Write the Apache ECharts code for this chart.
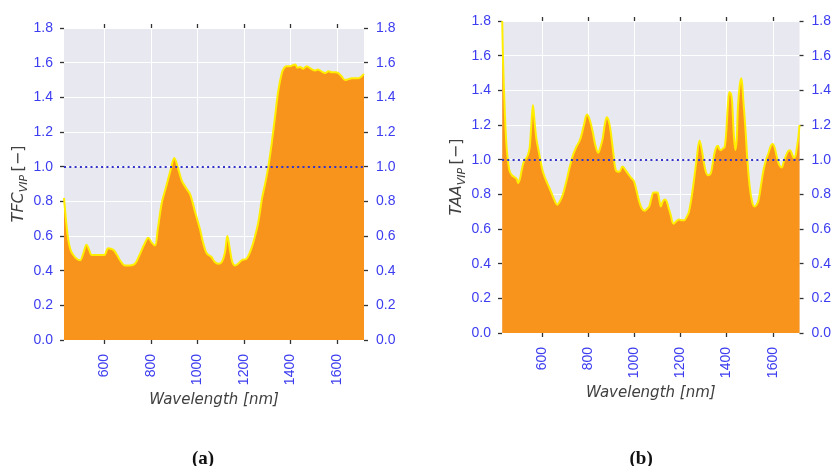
<!DOCTYPE html>
<html>
<head>
<meta charset="utf-8">
<script src="https://cdn.jsdelivr.net/npm/echarts@6/dist/echarts.min.js"></script>
<style>
  html, body { margin: 0; padding: 0; background: #ffffff; }
  #chart { width: 834px; height: 466px; }
</style>
</head>
<body>
<div id="chart"></div>
<script>
// Panel (a): TFC VIP scores against wavelength
const tfcWavelength = [427, 435, 445, 455, 467, 480, 496, 510, 524, 535, 546, 565, 582, 600, 617, 639, 655, 668, 689, 710, 732, 748, 761, 775, 789, 805, 818, 830, 847, 865, 885, 901, 915, 933, 950, 969, 990, 1011, 1025, 1040, 1060, 1075, 1090, 1105, 1118, 1129, 1140, 1150, 1162, 1175, 1191, 1212, 1230, 1248, 1262, 1277, 1291, 1305, 1320, 1334, 1348, 1363, 1373, 1384, 1400, 1420, 1430, 1441, 1455, 1470, 1488, 1506, 1517, 1527, 1538, 1549, 1563, 1578, 1592, 1606, 1620, 1635, 1650, 1664, 1678, 1693, 1705, 1716];
const tfcVip = [0.82, 0.70, 0.58, 0.52, 0.49, 0.47, 0.46, 0.50, 0.55, 0.52, 0.49, 0.49, 0.49, 0.49, 0.53, 0.52, 0.49, 0.46, 0.43, 0.43, 0.44, 0.48, 0.52, 0.56, 0.59, 0.56, 0.545, 0.64, 0.79, 0.88, 0.98, 1.05, 1.00, 0.92, 0.88, 0.84, 0.74, 0.64, 0.56, 0.50, 0.48, 0.45, 0.44, 0.45, 0.50, 0.60, 0.52, 0.45, 0.43, 0.44, 0.46, 0.47, 0.52, 0.60, 0.68, 0.81, 0.90, 1.00, 1.14, 1.29, 1.44, 1.54, 1.57, 1.58, 1.58, 1.59, 1.57, 1.575, 1.565, 1.58, 1.565, 1.555, 1.56, 1.555, 1.545, 1.54, 1.55, 1.545, 1.545, 1.54, 1.52, 1.50, 1.505, 1.51, 1.51, 1.51, 1.52, 1.535];

// Panel (b): TAA VIP scores against wavelength
const taaWavelength = [428, 432, 440, 447, 455, 461, 470, 480, 490, 497, 505, 511, 522, 533, 540, 547, 554, 561, 568, 576, 583, 593, 604, 618, 633, 650, 666, 678, 691, 705, 719, 733, 748, 760, 769, 782, 795, 807, 820, 832, 844, 853, 863, 872, 881, 890, 898, 910, 920, 935, 949, 962, 978, 990, 999, 1010, 1021, 1032, 1044, 1055, 1065, 1073, 1084, 1095, 1101, 1108, 1115, 1124, 1133, 1140, 1147, 1158, 1170, 1182, 1194, 1205, 1216, 1227, 1237, 1248, 1259, 1270, 1283, 1292, 1302, 1310, 1319, 1331, 1340, 1348, 1355, 1362, 1369, 1376, 1384, 1391, 1398, 1405, 1412, 1419, 1424, 1431, 1438, 1444, 1449, 1457, 1464, 1472, 1481, 1490, 1500, 1510, 1520, 1530, 1539, 1550, 1560, 1571, 1582, 1592, 1600, 1608, 1617, 1628, 1639, 1648, 1658, 1667, 1675, 1684, 1692, 1698, 1703, 1710, 1716];
const taaVip = [1.80, 1.55, 1.25, 1.07, 0.97, 0.93, 0.91, 0.90, 0.89, 0.865, 0.89, 0.93, 0.99, 1.01, 1.03, 1.07, 1.20, 1.315, 1.22, 1.12, 1.07, 1.00, 0.93, 0.88, 0.835, 0.78, 0.74, 0.76, 0.80, 0.87, 0.95, 1.02, 1.07, 1.10, 1.13, 1.20, 1.26, 1.23, 1.16, 1.08, 1.04, 1.07, 1.12, 1.20, 1.245, 1.22, 1.16, 1.03, 0.94, 0.93, 0.96, 0.94, 0.91, 0.89, 0.875, 0.82, 0.76, 0.72, 0.705, 0.715, 0.73, 0.77, 0.81, 0.81, 0.81, 0.77, 0.73, 0.76, 0.77, 0.76, 0.73, 0.68, 0.63, 0.645, 0.655, 0.65, 0.65, 0.67, 0.70, 0.78, 0.885, 1.00, 1.11, 1.06, 0.98, 0.93, 0.91, 0.92, 0.98, 1.04, 1.07, 1.08, 1.06, 1.055, 1.065, 1.07, 1.15, 1.30, 1.39, 1.38, 1.33, 1.15, 1.055, 1.12, 1.30, 1.43, 1.47, 1.35, 1.19, 1.00, 0.845, 0.76, 0.73, 0.74, 0.77, 0.86, 0.94, 1.00, 1.04, 1.08, 1.09, 1.07, 1.02, 0.97, 0.955, 0.99, 1.025, 1.05, 1.055, 1.03, 1.01, 1.02, 1.055, 1.12, 1.20];

// Axis ticks and reference level
const wavelengthTicks = [600, 800, 1000, 1200, 1400, 1600];
const wavelengthRange = [427, 1716];
const vipRange = [0, 1.8];
const vipThreshold = 1.0;
const panelLabels = ['a', 'b'];
const vipAbbreviations = ['TFC', 'TAA'];

const BLUE = '#3c3cf0';
const TEXT = '#404040';
const TICK = '#333333';

const chart = echarts.init(document.getElementById('chart'));

const grids = [
  { left: 64, top: 28, width: 300, height: 312 },
  { left: 502, top: 21, width: 299, height: 312 }
];

// the axis line itself stays invisible, only its tick marks show
const hiddenLine = { show: true, onZero: false, lineStyle: { color: 'rgba(0,0,0,0)', width: 1 } };
const tickStyle = { show: true, length: 4, inside: false, lineStyle: { color: TICK, width: 1.3 } };

const xAxes = [];
const yAxes = [];
const series = [];

grids.forEach((g, i) => {
  // bottom wavelength axis
  xAxes.push({
    type: 'value', gridIndex: i, position: 'bottom',
    min: wavelengthRange[0], max: wavelengthRange[1],
    name: 'Wavelength [nm]', nameLocation: 'middle', nameGap: 42,
    nameTextStyle: { fontFamily: 'DejaVu Sans', fontStyle: 'italic', fontSize: 15, color: TEXT },
    axisLine: hiddenLine,
    axisTick: Object.assign({ customValues: wavelengthTicks }, tickStyle),
    axisLabel: {
      customValues: wavelengthTicks, rotate: 90, margin: 14, color: BLUE,
      fontFamily: 'Liberation Sans', fontSize: 14, formatter: v => String(v)
    },
    splitLine: { show: true, lineStyle: { color: '#ffffff', width: 1 } }
  });
  // top axis carrying only tick marks
  xAxes.push({
    type: 'value', gridIndex: i, position: 'top',
    min: wavelengthRange[0], max: wavelengthRange[1],
    axisLine: hiddenLine,
    axisTick: Object.assign({ customValues: wavelengthTicks }, tickStyle),
    axisLabel: { show: false, customValues: wavelengthTicks },
    splitLine: { show: false }
  });
  const nameRich = {
    i: { fontFamily: 'DejaVu Sans', fontStyle: 'italic', fontSize: 16, color: TEXT, lineHeight: 22, verticalAlign: 'middle' },
    s: { fontFamily: 'DejaVu Sans', fontStyle: 'italic', fontSize: 11, color: TEXT, lineHeight: 22, verticalAlign: 'bottom', padding: [7, 0, 0, 0] },
    n: { fontFamily: 'DejaVu Sans', fontSize: 16, color: TEXT, lineHeight: 22, verticalAlign: 'middle' }
  };
  yAxes.push({
    type: 'value', gridIndex: i, position: 'left',
    min: vipRange[0], max: vipRange[1], interval: 0.2,
    name: '{i|' + vipAbbreviations[i] + '}{s|VIP} {n|[−]}',
    nameLocation: 'middle', nameGap: 32, nameRotate: 90,
    nameTextStyle: { rich: nameRich },
    axisLine: hiddenLine,
    axisTick: tickStyle,
    axisLabel: { margin: 11, color: BLUE, fontFamily: 'Liberation Sans', fontSize: 14, formatter: v => v.toFixed(1) },
    splitLine: { show: true, lineStyle: { color: '#ffffff', width: 1 } }
  });
  yAxes.push({
    type: 'value', gridIndex: i, position: 'right',
    min: vipRange[0], max: vipRange[1], interval: 0.2,
    axisLine: hiddenLine,
    axisTick: tickStyle,
    axisLabel: { margin: 12, color: BLUE, fontFamily: 'Liberation Sans', fontSize: 14, formatter: v => v.toFixed(1) },
    splitLine: { show: false }
  });
});

const panels = [
  [tfcWavelength, tfcVip],
  [taaWavelength, taaVip]
];

panels.forEach(([wl, vip], i) => {
  series.push({
    type: 'line',
    xAxisIndex: i * 2, yAxisIndex: i * 2,
    data: wl.map((w, k) => [w, vip[k]]),
    smooth: 0.35,
    showSymbol: false,
    lineStyle: { color: '#ffee00', width: 2 },
    areaStyle: { color: '#f8931c', opacity: 1, origin: 'start' },
    markLine: {
      silent: true, symbol: 'none', label: { show: false },
      lineStyle: { color: '#3434c8', width: 2, type: [2, 3.3] },
      data: [{ yAxis: vipThreshold }],
      z: 10
    },
    z: 2
  });
});

chart.setOption({
  animation: false,
  backgroundColor: '#ffffff',
  grid: grids.map(g => Object.assign({ show: true, backgroundColor: '#e8e8f0', borderWidth: 0 }, g)),
  xAxis: xAxes,
  yAxis: yAxes,
  title: panelLabels.map((p, i) => ({
    text: '{p|(}{b|' + p + '}{p|)}',
    left: grids[i].left + grids[i].width / 2 - 27,
    top: 445,
    textStyle: {
      rich: {
        p: { fontFamily: 'Liberation Serif', fontSize: 19, color: '#111111' },
        b: { fontFamily: 'Liberation Serif', fontSize: 19, fontWeight: 'bold', color: '#111111' }
      }
    }
  })),
  series: series
});
</script>
</body>
</html>
